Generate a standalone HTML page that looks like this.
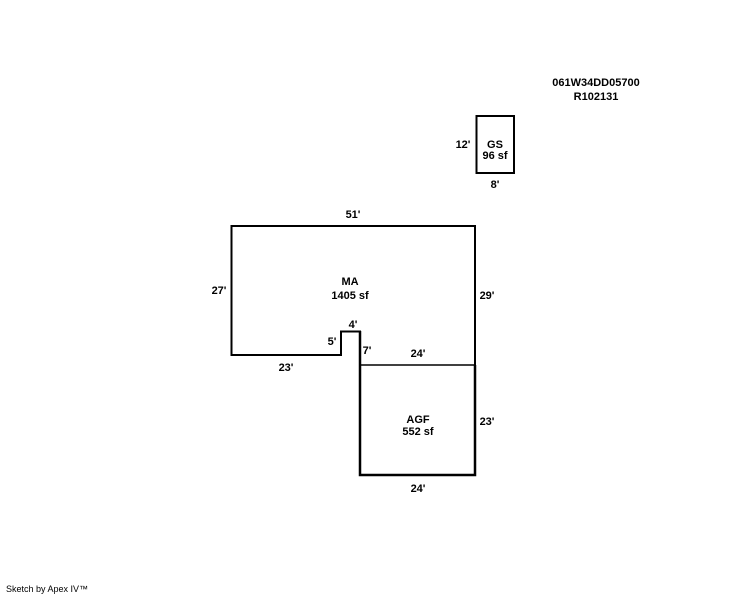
<!DOCTYPE html>
<html><head><style>
html,body{margin:0;padding:0;background:#fff;}
svg{display:block;}
text{font-family:"Liberation Sans",Arial,sans-serif;font-size:11px;font-weight:bold;fill:#000;}
</style></head><body>
<svg width="744" height="595" viewBox="0 0 744 595" xmlns="http://www.w3.org/2000/svg">
<g fill="none" stroke="#000" stroke-width="2">
<polyline points="475,365 475,226 231.5,226 231.5,355 341,355 341,331.5 360,331.5 360,365"/>
<rect x="476.5" y="116" width="37.5" height="57"/>
<line x1="360" y1="365" x2="475" y2="365" stroke-width="1.5"/>
<polyline points="360,331 360,475 475,475 475,365" stroke-width="2.5"/>
</g>
<text x="596" y="86" text-anchor="middle">061W34DD05700</text>
<text x="596" y="100" text-anchor="middle">R102131</text>
<text x="495" y="148" text-anchor="middle">GS</text>
<text x="495" y="159" text-anchor="middle">96 sf</text>
<text x="463" y="148" text-anchor="middle">12'</text>
<text x="495" y="188" text-anchor="middle">8'</text>
<text x="353" y="218" text-anchor="middle">51'</text>
<text x="219" y="294" text-anchor="middle">27'</text>
<text x="350" y="285" text-anchor="middle">MA</text>
<text x="350" y="299" text-anchor="middle">1405 sf</text>
<text x="487" y="299" text-anchor="middle">29'</text>
<text x="353" y="328" text-anchor="middle">4'</text>
<text x="332" y="345" text-anchor="middle">5'</text>
<text x="367" y="354" text-anchor="middle">7'</text>
<text x="418" y="357" text-anchor="middle">24'</text>
<text x="286" y="371" text-anchor="middle">23'</text>
<text x="418" y="423" text-anchor="middle">AGF</text>
<text x="418" y="435" text-anchor="middle">552 sf</text>
<text x="487" y="425" text-anchor="middle">23'</text>
<text x="418" y="492" text-anchor="middle">24'</text>
<text x="6" y="592" style="font-size:9px;font-weight:normal">Sketch by Apex IV™</text>
</svg>
</body></html>
